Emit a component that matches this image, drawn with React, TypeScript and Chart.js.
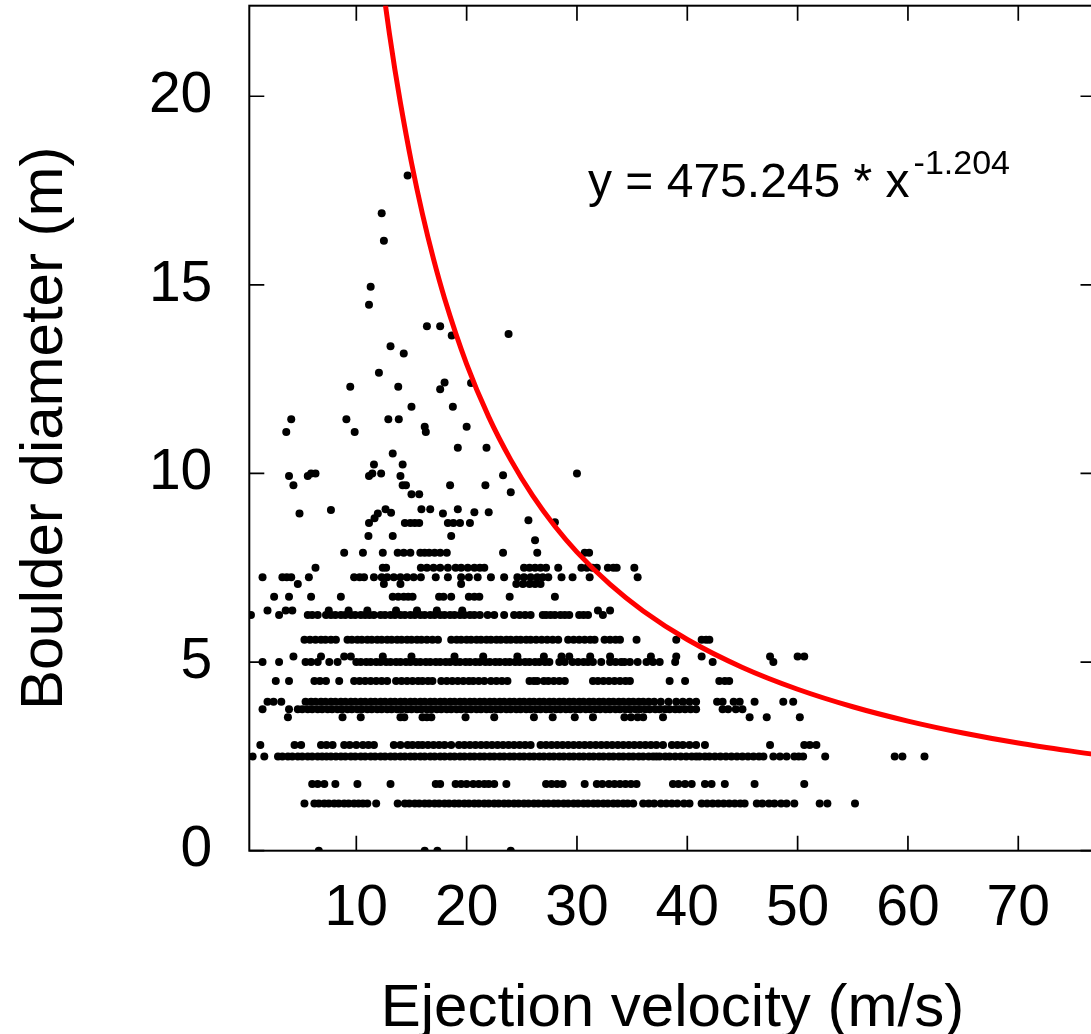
import React, { useEffect, useRef } from "react";
import { Chart, registerables } from "chart.js";

Chart.register(...registerables);

const FONT = "'Liberation Sans', Arial, Helvetica, sans-serif";

// Axis ranges / ticks
const X_MIN = 0.3;
const X_MAX = 77;
const Y_MIN = 0;
const Y_MAX = 22.4;
const X_STEP = 10;
const Y_STEP = 5;

// Diameter levels (m) of the quantised rows
const LEVELS = [0, 1.25, 1.77, 2.5, 2.8, 3.54, 3.75, 3.95, 4.5, 5.0, 5.15, 5.59, 6.25, 6.37, 6.73, 7.07, 7.25, 7.5, 7.9];

// Ejection velocities (m/s) for each row level
const row0 = [6.6, 16.2, 17.35, 24.0];
const row125 = [5.3, 6.2, 6.6, 7.1, 7.5, 8.0, 8.4, 8.9, 9.3, 9.8, 10.2, 10.6, 11.0, 11.8, 13.75, 14.4, 14.8, 15.3, 15.7, 16.2, 16.6, 17.1, 17.5, 18.0, 18.4, 18.9, 19.3, 19.8, 20.2, 20.7, 21.1, 21.6, 22.0, 22.5, 22.9, 23.4, 23.8, 24.3, 24.7, 25.2, 25.6, 26.1, 26.5, 27.0, 27.4, 27.9, 28.3, 28.8, 29.2, 29.7, 30.1, 30.6, 31.0, 31.5, 31.9, 32.4, 32.8, 33.3, 33.7, 34.2, 34.6, 35.1, 36.0, 36.5, 37.0, 37.6, 38.1, 38.6, 39.1, 39.7, 40.2, 41.3, 41.8, 42.3, 42.8, 43.3, 43.8, 44.3, 44.8, 45.2, 46.3, 46.8, 47.4, 47.9, 48.5, 49.0, 49.7, 52.0, 52.7, 55.2];
const row177 = [6.0, 6.5, 7.1, 8.1, 10.1, 13.1, 17.2, 17.6, 19.0, 19.5, 20.0, 20.6, 21.1, 21.6, 22.0, 22.5, 23.6, 27.2, 27.7, 28.2, 28.7, 30.7, 31.8, 32.3, 32.9, 33.4, 33.9, 34.4, 34.9, 35.4, 38.7, 39.2, 39.8, 40.4, 41.6, 42.2, 43.4, 46.1, 50.6];
const row250 = [0.6, 1.66, 2.9, 3.3, 3.8, 4.2, 4.7, 5.1, 5.6, 6.0, 6.5, 6.9, 7.3, 7.7, 8.15, 8.6, 9.0, 9.5, 9.9, 10.4, 10.8, 11.3, 11.7, 12.2, 12.6, 13.1, 13.5, 14.0, 14.4, 14.9, 15.3, 15.8, 16.2, 16.7, 17.1, 17.6, 18.0, 18.5, 18.9, 19.4, 19.8, 20.3, 20.7, 21.2, 21.6, 22.1, 22.5, 23.0, 23.4, 23.9, 24.3, 24.8, 25.2, 25.7, 26.1, 26.6, 27.0, 27.5, 27.9, 28.4, 28.8, 29.3, 29.7, 30.2, 30.6, 31.1, 31.5, 32.0, 32.4, 32.9, 33.3, 33.8, 34.2, 34.7, 35.1, 35.6, 36.0, 36.5, 36.9, 37.2, 37.5, 38.0, 38.4, 38.9, 39.4, 39.9, 40.4, 40.8, 41.1, 41.6, 42.0, 42.5, 43.0, 43.5, 44.0, 44.5, 45.0, 45.5, 46.0, 46.5, 46.9, 47.8, 48.4, 49.0, 49.7, 50.1, 50.5, 52.5, 58.8, 59.5, 61.5];
const row280 = [1.3, 4.4, 5.0, 6.8, 7.3, 7.85, 8.9, 9.4, 10.0, 10.6, 11.1, 11.6, 13.4, 14.0, 14.65, 15.1, 15.6, 16.0, 16.5, 17.0, 17.5, 18.0, 18.6, 19.3, 19.8, 20.3, 20.8, 21.3, 21.8, 22.3, 22.8, 23.3, 23.8, 24.3, 24.8, 25.3, 25.8, 26.7, 27.2, 27.7, 28.2, 28.7, 29.2, 29.7, 30.2, 30.7, 31.2, 31.7, 32.2, 32.7, 33.2, 33.7, 34.2, 34.7, 35.2, 35.7, 36.2, 36.7, 37.2, 37.8, 38.6, 39.1, 39.6, 40.2, 40.8, 41.6, 47.5, 50.6, 51.1, 51.7];
const row354 = [3.8, 8.75, 10.4, 14.0, 14.35, 16.0, 16.4, 16.8, 19.9, 22.5, 26.1, 27.8, 29.8, 31.45, 34.3, 34.9, 35.5, 36.0, 37.8, 45.65, 47.2, 50.2];
const row375 = [1.5, 3.9, 4.7, 5.1, 5.6, 6.0, 6.5, 6.9, 7.4, 7.8, 8.3, 8.7, 9.2, 9.6, 10.1, 10.5, 11.0, 11.4, 11.9, 12.3, 12.8, 13.2, 13.7, 14.1, 14.6, 15.0, 15.5, 15.9, 16.4, 16.8, 17.3, 17.7, 18.2, 18.6, 19.1, 19.5, 20.0, 20.4, 20.9, 21.3, 21.8, 22.2, 22.7, 23.1, 23.6, 24.0, 24.5, 24.9, 25.4, 25.8, 26.3, 26.7, 27.2, 27.6, 28.1, 28.5, 29.0, 29.4, 29.9, 30.3, 30.8, 31.2, 31.7, 32.1, 32.6, 33.0, 33.5, 33.9, 34.4, 34.8, 35.3, 35.7, 36.2, 36.6, 37.1, 37.5, 38.0, 38.4, 38.9, 39.3, 39.8, 40.3, 40.8, 43.2, 43.7, 44.4, 45.0];
const row395 = [1.95, 2.5, 3.2, 5.4, 5.9, 6.3, 6.8, 7.2, 7.7, 8.1, 8.6, 9.0, 9.5, 9.9, 10.4, 10.8, 11.3, 11.7, 12.2, 12.6, 13.1, 13.5, 14.0, 14.4, 14.9, 15.3, 15.8, 16.2, 16.7, 17.1, 17.6, 18.0, 18.5, 18.9, 19.4, 19.8, 20.3, 20.7, 21.2, 21.6, 22.1, 22.5, 23.0, 23.4, 23.9, 24.3, 24.8, 25.2, 25.7, 26.1, 26.6, 27.0, 27.5, 27.9, 28.4, 28.8, 29.3, 29.7, 30.2, 30.6, 31.1, 31.5, 32.0, 32.4, 32.9, 33.3, 33.8, 34.2, 34.7, 35.1, 35.6, 36.0, 36.5, 37.0, 37.6, 38.3, 39.0, 39.6, 40.2, 40.8, 42.7, 43.2, 44.2, 44.75, 46.1, 48.7, 49.6];
const row450 = [2.7, 3.9, 6.2, 6.7, 7.25, 8.45, 9.8, 10.3, 10.8, 11.3, 11.8, 12.3, 12.8, 13.6, 14.1, 14.6, 15.1, 15.6, 16.0, 16.5, 16.9, 17.7, 18.2, 18.7, 19.2, 19.7, 20.2, 20.6, 21.1, 21.6, 22.2, 22.7, 23.2, 23.7, 25.7, 26.1, 26.4, 27.0, 27.4, 27.9, 28.4, 28.9, 31.45, 31.9, 32.4, 32.9, 33.4, 33.9, 34.4, 34.8, 38.4, 39.8, 42.9, 43.4, 43.8];
const row500 = [1.5, 3.0, 5.4, 5.9, 6.5, 7.55, 8.3, 10.0, 10.4, 10.9, 11.3, 11.8, 12.2, 12.7, 13.1, 13.6, 14.0, 14.5, 14.9, 15.4, 15.8, 16.3, 16.7, 17.2, 17.6, 18.1, 18.5, 19.0, 19.4, 19.9, 20.3, 20.8, 21.2, 21.7, 22.1, 22.6, 23.0, 23.5, 23.9, 24.4, 24.8, 25.3, 25.7, 26.2, 26.6, 27.1, 27.5, 28.4, 28.9, 29.6, 30.1, 30.6, 31.0, 31.45, 32.2, 33.0, 33.5, 34.0, 34.3, 34.8, 35.5, 36.3, 36.9, 37.5, 38.9, 42.3, 47.8];
const row515 = [4.3, 6.8, 8.9, 9.5, 12.4, 15.0, 18.9, 21.5, 24.6, 27.0, 28.6, 29.3, 31.2, 33.0, 36.7, 39.0, 41.3, 47.5, 50.0, 50.6];
const row559 = [5.3, 5.8, 6.3, 6.8, 7.2, 7.7, 8.15, 9.2, 9.6, 10.1, 10.5, 11.0, 11.4, 11.9, 12.3, 12.8, 13.2, 13.7, 14.1, 14.6, 15.0, 15.5, 15.9, 16.4, 16.9, 17.4, 18.6, 19.1, 19.5, 20.0, 20.4, 20.9, 21.3, 21.8, 22.2, 22.7, 23.1, 23.6, 24.0, 24.5, 24.9, 25.4, 25.8, 26.3, 26.8, 27.3, 27.8, 28.3, 29.2, 29.7, 30.2, 30.7, 31.2, 31.6, 32.5, 33.0, 33.5, 33.9, 35.4, 39.0, 41.3, 41.7, 42.0];
const row625 = [0.45, 3.0, 5.6, 6.0, 6.5, 7.25, 7.7, 8.1, 8.6, 9.0, 9.5, 9.9, 10.4, 10.8, 11.2, 11.6, 12.2, 12.6, 13.1, 13.5, 14.0, 14.4, 14.9, 15.3, 15.8, 16.2, 16.7, 17.1, 17.6, 18.0, 18.5, 18.9, 19.4, 19.8, 20.3, 20.7, 21.2, 21.9, 22.5, 23.4, 24.3, 24.8, 25.3, 25.8, 26.9, 27.2, 27.6, 28.0, 28.5, 28.9, 29.3, 30.2, 30.6, 31.0, 32.35];
const row637 = [1.95, 3.6, 4.2, 7.5, 9.3, 11.0, 13.6, 15.5, 17.3, 19.6, 31.9, 33.0];
const row673 = [2.55, 3.9, 5.9, 8.6, 13.3, 13.8, 14.3, 14.7, 15.1, 17.5, 17.9, 18.6, 20.2, 20.7, 21.15, 23.9, 28.0];
const row707 = [4.7, 12.5, 14.0, 19.5, 24.5, 25.1, 25.7, 26.2, 26.7];
const row725 = [1.5, 3.3, 3.7, 4.1, 5.7, 9.8, 10.3, 10.7, 11.6, 12.3, 12.8, 13.4, 14.0, 14.6, 15.2, 15.85, 17.2, 18.3, 19.5, 20.2, 21.0, 22.2, 23.4, 24.6, 25.2, 25.8, 26.4, 26.9, 27.4, 28.6, 29.6, 31.15, 35.5];
const row750 = [6.3, 12.4, 12.7, 15.85, 16.4, 17.0, 17.6, 18.3, 19.0, 19.5, 20.1, 20.7, 21.2, 21.6, 25.2, 25.7, 26.2, 26.7, 27.2, 28.3, 30.4, 30.9, 31.4, 31.8, 32.8, 33.3, 33.6, 35.2];
const row790 = [8.9, 10.6, 12.4, 13.75, 14.3, 14.9, 15.8, 16.2, 16.6, 17.1, 17.6, 18.2, 23.3, 26.4, 30.7, 31.1];

const ROWS = [row0, row125, row177, row250, row280, row354, row375, row395, row450, row500, row515, row559, row625, row637, row673, row707, row725, row750, row790];

// Scattered larger boulders: velocity (m/s) and diameter (m)
const upperX = [14.65, 12.3, 12.5, 11.3, 11.15, 16.4, 17.6, 18.65, 23.8, 13.1, 14.3, 12.05, 9.45, 13.8, 17.6, 18.0, 20.4, 15.0, 18.75, 4.1, 3.65, 9.1, 9.85, 12.9, 13.85, 16.2, 16.3, 20.0, 19.2, 21.8, 13.3, 11.6, 14.2, 3.9, 4.3, 5.6, 5.9, 6.3, 11.15, 11.45, 12.25, 14.0, 14.2, 14.5, 15.0, 15.7, 18.5, 23.3, 30.0, 21.7, 24.0, 4.85, 7.7, 12.65, 13.15, 15.9, 16.7, 17.85, 19.2, 20.7, 22.0, 11.15, 11.65, 11.95, 14.4, 14.9, 15.3, 15.7, 18.3, 18.8, 19.4, 20.3, 25.6, 28.0, 11.1, 13.3, 18.6, 26.2];
const upperY = [17.9, 16.9, 16.17, 14.95, 14.47, 13.9, 13.9, 13.66, 13.7, 13.37, 13.18, 12.67, 12.3, 12.3, 12.23, 12.41, 12.4, 11.77, 11.77, 11.44, 11.1, 11.44, 11.1, 11.44, 11.44, 11.24, 11.1, 11.24, 10.68, 10.68, 10.53, 10.24, 10.24, 9.93, 9.69, 9.93, 10.0, 10.0, 9.93, 10.0, 10.0, 9.93, 9.69, 9.69, 9.45, 9.45, 9.69, 9.95, 10.0, 9.69, 9.5, 8.94, 9.03, 9.05, 8.96, 9.05, 9.05, 8.94, 9.05, 8.97, 8.97, 8.69, 8.81, 8.94, 8.69, 8.69, 8.69, 8.69, 8.69, 8.69, 8.69, 8.69, 8.76, 8.71, 8.34, 8.34, 8.34, 8.23];

// Power-law fit y = 475.245 * x^-1.204, tabulated
const fitX = [12.5, 13, 13.5, 14, 15, 16, 17, 18, 20, 22, 24, 26, 28, 30, 33, 36, 40, 45, 50, 55, 60, 65, 70, 77];
const fitY = [22.71, 21.66, 20.70, 19.82, 18.24, 16.87, 15.68, 14.64, 12.90, 11.50, 10.36, 9.405, 8.60, 7.916, 7.058, 6.356, 5.599, 4.858, 4.280, 3.816, 3.436, 3.120, 2.854, 2.545];

const EQ_MAIN = "y = 475.245 * x";
const EQ_EXP = "-1.204";
const EQ_AT = { x: 31.0, y: 17.33 };

const X_TITLE = "Ejection velocity (m/s)";
const Y_TITLE = "Boulder diameter (m)";

const TICK_LEN = 15;

const framePlugin = {
  id: "gnuFrame",
  beforeDatasetsDraw(chart: any) {
    const { ctx, chartArea: a, scales } = chart;
    const xs = scales.x;
    const ys = scales.y;
    ctx.save();
    ctx.strokeStyle = "#000";
    ctx.lineWidth = 2;
    ctx.strokeRect(a.left, a.top, a.right - a.left, a.bottom - a.top);
    ctx.lineWidth = 1.7;
    ctx.beginPath();
    xs.ticks.forEach((t: any) => {
      const px = xs.getPixelForValue(t.value);
      ctx.moveTo(px, a.bottom);
      ctx.lineTo(px, a.bottom - TICK_LEN);
      ctx.moveTo(px, a.top);
      ctx.lineTo(px, a.top + TICK_LEN);
    });
    ys.ticks.forEach((t: any) => {
      const py = ys.getPixelForValue(t.value);
      ctx.moveTo(a.left, py);
      ctx.lineTo(a.left + TICK_LEN, py);
      ctx.moveTo(a.right, py);
      ctx.lineTo(a.right - TICK_LEN, py);
    });
    ctx.stroke();
    ctx.restore();
  },
};

const equationPlugin = {
  id: "equation",
  afterDatasetsDraw(chart: any) {
    const { ctx, scales } = chart;
    const px = scales.x.getPixelForValue(EQ_AT.x);
    const py = scales.y.getPixelForValue(EQ_AT.y);
    ctx.save();
    ctx.fillStyle = "#000";
    ctx.textAlign = "left";
    ctx.textBaseline = "alphabetic";
    ctx.font = `48px ${FONT}`;
    ctx.fillText(EQ_MAIN, px, py);
    const w = ctx.measureText(EQ_MAIN).width;
    ctx.font = `34px ${FONT}`;
    ctx.fillText(EQ_EXP, px + w + 4, py - 23);
    ctx.restore();
  },
};

export default function App() {
  const ref = useRef<HTMLCanvasElement | null>(null);

  useEffect(() => {
    if (!ref.current) return;
    const pts: { x: number; y: number }[] = [];
    ROWS.forEach((xs, i) => xs.forEach((x) => pts.push({ x, y: LEVELS[i] })));
    upperX.forEach((x, i) => pts.push({ x, y: upperY[i] }));
    const fit = fitX.map((x, i) => ({ x, y: fitY[i] }));

    const chart = new Chart(ref.current, {
      type: "scatter",
      data: {
        datasets: [
          {
            label: "fit",
            data: fit,
            showLine: true,
            borderColor: "#ff0000",
            borderWidth: 5,
            pointRadius: 0,
            cubicInterpolationMode: "monotone",
            clip: 0,
          } as any,
          {
            label: "boulders",
            data: pts,
            pointRadius: 4,
            pointBorderWidth: 0,
            pointBackgroundColor: "#000",
            borderColor: "#000",
            backgroundColor: "#000",
          },
        ],
      },
      options: {
        animation: false,
        responsive: false,
        devicePixelRatio: 1,
        layout: { padding: { left: 0, top: 5.7, right: 4.5, bottom: 0 } },
        plugins: {
          legend: { display: false },
          tooltip: { enabled: false },
        },
        scales: {
          x: {
            type: "linear",
            min: X_MIN,
            max: X_MAX,
            grid: { display: false, drawTicks: false },
            border: { display: false },
            ticks: {
              stepSize: X_STEP,
              includeBounds: false,
              padding: 24,
              maxRotation: 0,
              autoSkip: false,
              color: "#000",
              font: { family: FONT, size: 57, lineHeight: 1.2 },
            },
            title: {
              display: true,
              text: X_TITLE,
              color: "#000",
              font: { family: FONT, size: 60, lineHeight: 1.2 },
              padding: { top: 0, bottom: -11 },
            },
            afterFit: (s: any) => {
              s.height = 183.3;
              s.paddingLeft = 0;
              s.paddingRight = 0;
            },
          } as any,
          y: {
            type: "linear",
            min: Y_MIN,
            max: Y_MAX,
            grid: { display: false, drawTicks: false },
            border: { display: false },
            ticks: {
              stepSize: Y_STEP,
              includeBounds: false,
              padding: 37,
              color: "#000",
              font: { family: FONT, size: 57, lineHeight: 1.2 },
            },
            title: {
              display: true,
              text: Y_TITLE,
              color: "#000",
              font: { family: FONT, size: 60, lineHeight: 1.2 },
              padding: { top: 9, bottom: 0 },
            },
            afterFit: (s: any) => {
              s.width = 249.3;
              s.paddingTop = 0;
              s.paddingBottom = 0;
            },
          } as any,
        },
      },
      plugins: [framePlugin, equationPlugin],
    });
    return () => chart.destroy();
  }, []);

  return (
    <div
      style={{
        position: "fixed",
        left: 0,
        top: 0,
        width: 1091,
        height: 1034,
        overflow: "hidden",
        background: "#fff",
      }}
    >
      <canvas
        ref={ref}
        width={1100}
        height={1034}
        style={{ display: "block", width: 1100, height: 1034 }}
      />
    </div>
  );
}
